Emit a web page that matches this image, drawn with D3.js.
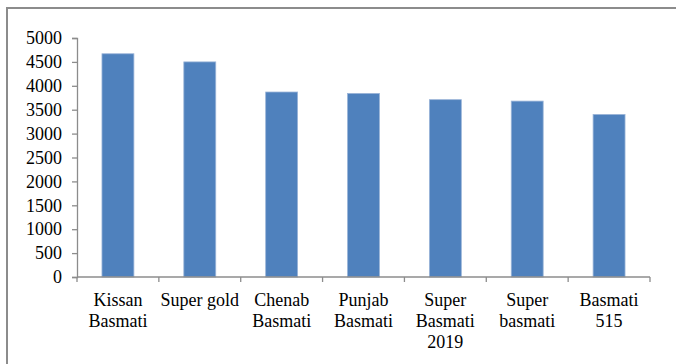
<!DOCTYPE html>
<html>
<head>
<meta charset="utf-8">
<script src="https://cdn.jsdelivr.net/npm/d3@7/dist/d3.min.js"></script>
<style>
  html, body { margin: 0; padding: 0; background: #fff; }
  svg { display: block; }
  text { font-family: "Liberation Serif", "Times New Roman", serif; fill: #000; }
</style>
</head>
<body>
<svg id="chart" width="676" height="364"></svg>
<script>
// Rice varieties and their values
const categories = [
  ["Kissan", "Basmati"],
  ["Super gold"],
  ["Chenab", "Basmati"],
  ["Punjab", "Basmati"],
  ["Super", "Basmati", "2019"],
  ["Super", "basmati"],
  ["Basmati", "515"]
];
const values = [4670, 4500, 3870, 3840, 3710, 3680, 3400];
const yTicks = [0, 500, 1000, 1500, 2000, 2500, 3000, 3500, 4000, 4500, 5000];

const svg = d3.select("#chart");
const W = 676, H = 364;
const margin = { left: 77, right: 26, top: 38, bottom: 87 };
const plotW = W - margin.left - margin.right;
const plotH = H - margin.top - margin.bottom;

// Outer frame
svg.append("rect")
  .attr("x", 7).attr("y", 8)
  .attr("width", W).attr("height", H)
  .attr("fill", "none").attr("stroke", "#8c8c8c").attr("stroke-width", 2);

const g = svg.append("g").attr("transform", `translate(${margin.left},${margin.top})`);

const keys = categories.map(c => c.join(" "));
const x = d3.scaleBand().domain(keys).range([0, plotW]).paddingInner(0.61).paddingOuter(0.305);
const xBand = d3.scaleBand().domain(keys).range([0, plotW]);
const y = d3.scaleLinear().domain([0, 5000]).range([plotH, 0]);

// Bars
g.selectAll("rect.bar").data(values).enter().append("rect")
  .attr("class", "bar")
  .attr("x", (d, i) => x(keys[i]))
  .attr("width", x.bandwidth())
  .attr("y", d => y(d))
  .attr("height", d => plotH - y(d))
  .attr("fill", "#4f81bd")
  .attr("stroke", "#9ab4d8").attr("stroke-width", 0.8);

// Y axis
const yAxis = g.append("g").call(
  d3.axisLeft(y).tickValues(yTicks).tickSize(5).tickPadding(10).tickFormat(d3.format("d"))
);
yAxis.select(".domain").attr("stroke", "#8c8c8c").attr("stroke-width", 1.3);
yAxis.selectAll(".tick line").attr("stroke", "#8c8c8c").attr("stroke-width", 1.3);
yAxis.selectAll(".tick text")
  .attr("font-family", "Liberation Serif, Times New Roman, serif")
  .attr("font-size", 18).attr("fill", "#000");

// X axis line with ticks at category boundaries
const xAxisG = g.append("g").attr("transform", `translate(0,${plotH})`);
xAxisG.append("line")
  .attr("x1", 0).attr("x2", plotW).attr("y1", 0).attr("y2", 0)
  .attr("stroke", "#8c8c8c").attr("stroke-width", 1.3);
const bounds = keys.map(k => xBand(k)).concat([plotW]);
xAxisG.selectAll("line.tk").data(bounds).enter().append("line")
  .attr("class", "tk")
  .attr("x1", d => d).attr("x2", d => d)
  .attr("y1", 0).attr("y2", 5)
  .attr("stroke", "#8c8c8c").attr("stroke-width", 1.3);

// Category labels (multi-line)
const lbl = xAxisG.selectAll("text.cat").data(categories).enter().append("text")
  .attr("class", "cat")
  .attr("text-anchor", "middle")
  .attr("font-size", 18)
  .attr("transform", (d, i) => `translate(${xBand(keys[i]) + xBand.bandwidth() / 2},29)`);
lbl.selectAll("tspan").data(d => d).enter().append("tspan")
  .attr("x", 0)
  .attr("dy", (d, j) => j === 0 ? 0 : 21)
  .text(d => d);
</script>
</body>
</html>
